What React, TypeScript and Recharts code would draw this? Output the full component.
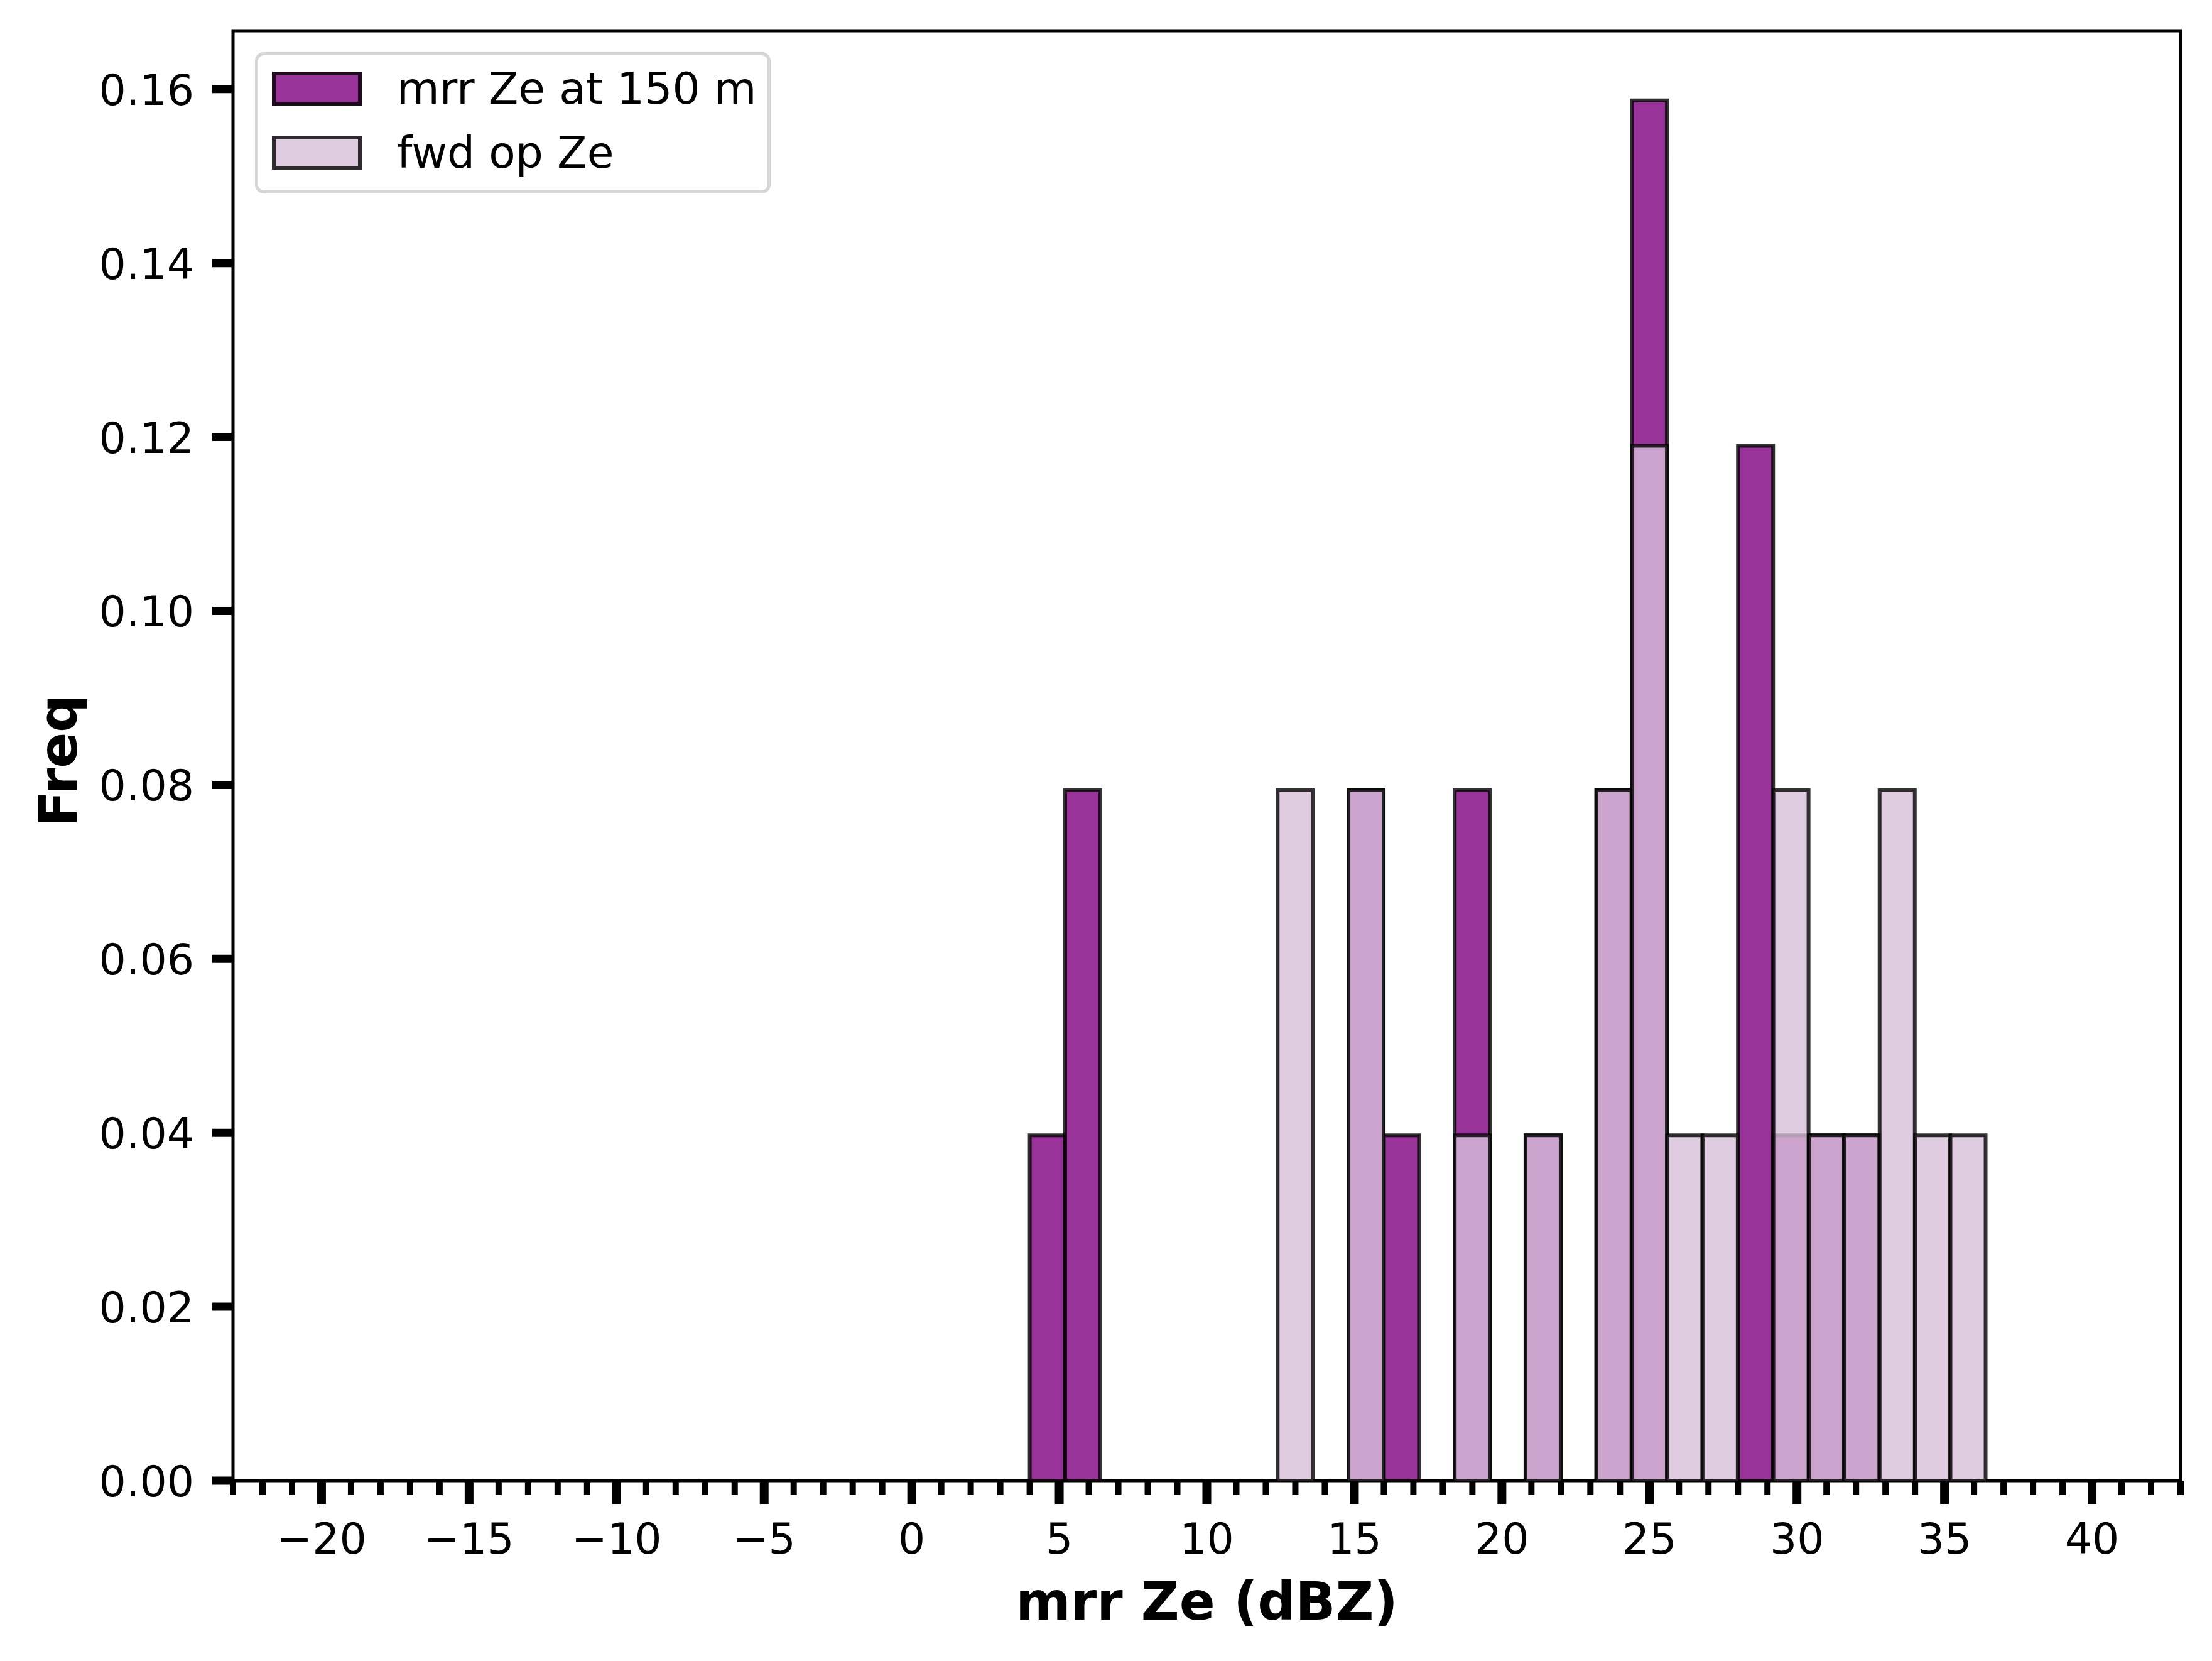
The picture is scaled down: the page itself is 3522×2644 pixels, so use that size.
import React from "react";
import { ComposedChart, Bar, XAxis, YAxis, Legend, Label, ReferenceArea } from "recharts";

const FONT = "DejaVu Sans";

// histogram bins: left edge of each 1.2 dBZ bin
const binEdges = [
  -20, -18.8, -17.6, -16.4, -15.2, -14, -12.8, -11.6, -10.4, -9.2,
  -8, -6.8, -5.6, -4.4, -3.2, -2, -0.8, 0.4, 1.6, 2.8,
  4, 5.2, 6.4, 7.6, 8.8, 10, 11.2, 12.4, 13.6, 14.8,
  16, 17.2, 18.4, 19.6, 20.8, 22, 23.2, 24.4, 25.6, 26.8,
  28, 29.2, 30.4, 31.6, 32.8, 34, 35.2, 36.4, 37.6, 38.8,
];

const mrrFreq = [
  0, 0, 0, 0, 0, 0, 0, 0, 0, 0,
  0, 0, 0, 0, 0, 0, 0, 0, 0, 0,
  0.0397, 0.0794, 0, 0, 0, 0, 0, 0, 0, 0.0794,
  0.0397, 0, 0.0794, 0, 0.0397, 0, 0.0794, 0.1587, 0, 0,
  0.119, 0.0397, 0.0397, 0.0397, 0, 0, 0, 0, 0, 0,
];

const fwdFreq = [
  0, 0, 0, 0, 0, 0, 0, 0, 0, 0,
  0, 0, 0, 0, 0, 0, 0, 0, 0, 0,
  0, 0, 0, 0, 0, 0, 0, 0.0794, 0, 0.0794,
  0, 0, 0.0397, 0, 0.0397, 0, 0.0794, 0.119, 0.0397, 0.0397,
  0, 0.0794, 0.0397, 0.0397, 0.0794, 0.0397, 0.0397, 0, 0, 0,
];

const xMajorTicks = [-20, -15, -10, -5, 0, 5, 10, 15, 20, 25, 30, 35, 40];
const xDomain: [number, number] = [-23, 43];
const xAllTicks = Array.from({ length: 67 }, (_, i) => i - 23);
const yTicks = [0, 0.02, 0.04, 0.06, 0.08, 0.1, 0.12, 0.14, 0.16];
const yMax = 0.1667;

const series = [
  { key: "mrr", name: "mrr Ze at 150 m", swatch: "rgba(128,0,128,0.8)" },
  { key: "fwd", name: "fwd op Ze", swatch: "rgba(216,191,216,0.8)" },
];

const rows = binEdges.map((b, i) => ({ bin: b, mrr: mrrFreq[i], fwd: fwdFreq[i] }));

const W = 3522;
const H = 2644;
const PLOT_W = 3101;
const binPad = (PLOT_W * 2.5) / 55;

const fmtX = (v: number) => (v < 0 ? `\u2212${Math.abs(v)}` : `${v}`);

const XTick = ({ x, y, payload }: any) => {
  const v = payload.value;
  const major = xMajorTicks.includes(v);
  return (
    <g>
      <line x1={x} x2={x} y1={y} y2={y + (major ? 37 : 23)} stroke="#000" strokeWidth={major ? 14 : 10} />
      {major && (
        <text x={x} y={y + 116} textAnchor="middle" fontSize={68} fontFamily={FONT} fill="#000">
          {fmtX(v)}
        </text>
      )}
    </g>
  );
};

const YTick = ({ x, y, payload }: any) => (
  <g>
    <line x1={x - 33} x2={x} y1={y} y2={y} stroke="#000" strokeWidth={13} />
    <text x={x - 62} y={y + 25} textAnchor="end" fontSize={68} fontFamily={FONT} fill="#000">
      {payload.value.toFixed(2)}
    </text>
  </g>
);

const LegendBox = () => (
  <div
    style={{
      boxSizing: "border-box",
      width: 821,
      height: 225,
      border: "5px solid #d6d6d6",
      borderRadius: 14,
      background: "rgba(255,255,255,0.8)",
      position: "relative",
      fontFamily: FONT,
    }}
  >
    {series.map((s, i) => (
      <div
        key={s.key}
        style={{ position: "absolute", left: 22, top: 26 + i * 102, display: "flex", alignItems: "center" }}
      >
        <div
          style={{
            boxSizing: "border-box",
            width: 143,
            height: 54,
            background: s.swatch,
            border: "6px solid rgba(0,0,0,0.8)",
          }}
        />
        <span style={{ marginLeft: 56, fontSize: 69.5, lineHeight: "54px", color: "#000", whiteSpace: "nowrap" }}>
          {s.name}
        </span>
      </div>
    ))}
  </div>
);

export default function App() {
  return (
    <div style={{ position: "absolute", left: 0, top: 0, width: W, height: H, background: "#fff" }}>
      <ComposedChart
        width={W}
        height={H}
        data={rows}
        margin={{ top: 49, right: 50, bottom: 47, left: 71 }}
        barCategoryGap={0}
        barGap={0}
      >
        <XAxis xAxisId="binsA" dataKey="bin" hide height={0} padding={{ left: binPad, right: binPad }} />
        <XAxis xAxisId="binsB" dataKey="bin" hide height={0} padding={{ left: binPad, right: binPad }} />
        <Bar xAxisId="binsA" yAxisId="y" dataKey="mrr" name={series[0].name} fill="purple" fillOpacity={0.8}
          stroke="#000" strokeOpacity={0.8} strokeWidth={6} isAnimationActive={false} />
        <Bar xAxisId="binsB" yAxisId="y" dataKey="fwd" name={series[1].name} fill="thistle" fillOpacity={0.8}
          stroke="#000" strokeOpacity={0.8} strokeWidth={6} isAnimationActive={false} />
        <XAxis
          xAxisId="val"
          type="number"
          dataKey="bin"
          domain={xDomain}
          allowDataOverflow
          ticks={xAllTicks}
          interval={0}
          height={240}
          tickSize={0}
          tickMargin={0}
          tickLine={false}
          tick={<XTick />}
          axisLine={false}
        >
          <Label
            content={(p: any) => (
              <text
                x={p.viewBox.x + p.viewBox.width / 2}
                y={p.viewBox.y + 221}
                textAnchor="middle"
                fontSize={84}
                fontWeight="bold"
                fontFamily={FONT}
                fill="#000"
              >
                mrr Ze (dBZ)
              </text>
            )}
          />
        </XAxis>
        <YAxis
          yAxisId="y"
          type="number"
          domain={[0, yMax]}
          allowDataOverflow
          ticks={yTicks}
          interval={0}
          width={300}
          tickSize={0}
          tickMargin={0}
          tickLine={false}
          tick={<YTick />}
          axisLine={false}
        >
          <Label
            content={(p: any) => {
              const lx = p.viewBox.x + 51;
              const ly = p.viewBox.y + p.viewBox.height / 2 + 8;
              return (
                <text
                  x={lx}
                  y={ly}
                  transform={`rotate(-90, ${lx}, ${ly})`}
                  textAnchor="middle"
                  fontSize={84}
                  fontWeight="bold"
                  fontFamily={FONT}
                  fill="#000"
                >
                  Freq
                </text>
              );
            }}
          />
        </YAxis>
        {/* axes frame (all four spines) */}
        <ReferenceArea
          xAxisId="val"
          yAxisId="y"
          x1={xDomain[0]}
          x2={xDomain[1]}
          y1={0}
          y2={yMax}
          fill="none"
          stroke="#000"
          strokeWidth={5}
          ifOverflow="visible"
        />
        <Legend
          layout="vertical"
          align="center"
          verticalAlign="middle"
          content={() => <LegendBox />}
          wrapperStyle={{ position: "absolute", left: 406, top: 83, width: 821, height: 225 }}
        />
      </ComposedChart>
    </div>
  );
}
